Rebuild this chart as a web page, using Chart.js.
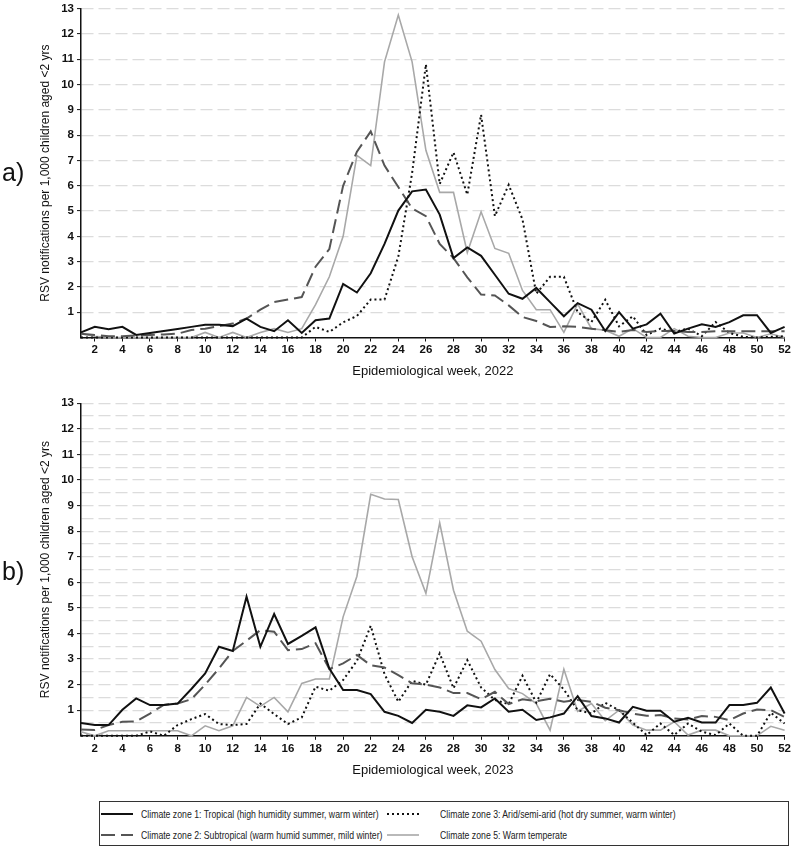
<!DOCTYPE html>
<html>
<head>
<meta charset="utf-8">
<script src="https://cdn.jsdelivr.net/npm/chart.js@4.4.1/dist/chart.umd.min.js"></script>
<style>
  body { margin: 0; background: #fff; font-family: "Liberation Sans", Arial, sans-serif; }
  #wrap { position: relative; width: 794px; height: 850px; }
  .panel { position: absolute; left: 0; width: 794px; }
  .tag { position: absolute; left: 2px; font-size: 25px; color: #111; }
  #legend { position: absolute; left: 99px; top: 801px; width: 690px; height: 45px;
            border: 1px solid #333; box-sizing: border-box; font-size: 11px; color: #222; }
  .item { position: absolute; display: flex; align-items: center; height: 14px; white-space: nowrap; }
  .item span { display: inline-block; transform: scaleX(0.79); transform-origin: left center; }
</style>
</head>
<body>
<div id="wrap">
  <div class="panel" style="top:0;height:383px"><canvas id="chartA"></canvas></div>
  <div class="panel" style="top:390px;height:392px"><canvas id="chartB"></canvas></div>
  <div class="tag" style="top:158px">a)</div>
  <div class="tag" style="top:557px">b)</div>
  <div id="legend"></div>
</div>
<script>
const weeks = [1,2,3,4,5,6,7,8,9,10,11,12,13,14,15,16,17,18,19,20,21,22,23,24,25,26,
  27,28,29,30,31,32,33,34,35,36,37,38,39,40,41,42,43,44,45,46,47,48,49,50,51,52];
const xTicks = [2,4,6,8,10,12,14,16,18,20,22,24,26,28,30,32,34,36,38,40,42,44,46,48,50,52];

const zoneNames = [
  'Climate zone 1: Tropical (high humidity summer, warm winter)',
  'Climate zone 2: Subtropical (warm humid summer, mild winter)',
  'Climate zone 3: Arid/semi-arid (hot dry summer, warm winter)',
  'Climate zone 5: Warm temperate'
];

// 2022
const tropical2022 = [0.2,0.42,0.33,0.42,0.1,0.18,0.26,0.34,0.42,0.5,0.5,0.45,0.75,0.42,0.25,0.68,0.18,0.68,0.75,2.12,
  1.78,2.54,3.7,5.02,5.78,5.85,4.86,3.14,3.56,3.23,2.48,1.73,1.53,1.96,1.4,0.84,1.36,1.1,0.26,1.0,
  0.35,0.52,0.94,0.16,0.35,0.52,0.42,0.61,0.88,0.88,0.18,0.42];
const subtropical2022 = [0.15,0.1,0.05,0.05,0.08,0.1,0.12,0.15,0.3,0.35,0.45,0.55,0.75,1.1,1.4,1.5,1.6,2.8,3.5,6.0,
  7.35,8.15,6.8,5.95,5.1,4.8,3.7,3.14,2.38,1.7,1.66,1.27,0.81,0.65,0.42,0.44,0.42,0.35,0.29,0.22,
  0.3,0.22,0.26,0.26,0.22,0.22,0.25,0.25,0.25,0.25,0.25,0.25];
const arid2022 = [0,0,0,0,0,0,0,0,0,0,0,0,0,0,0,0,0,0.42,0.22,0.6,
  0.85,1.5,1.5,3.2,6.5,10.8,6.07,7.32,5.65,8.81,4.8,6.04,4.67,1.73,2.4,2.4,1.0,0.61,1.49,0.44,
  0.84,0.1,0.35,0.22,0.35,0.05,0.61,0.18,0.03,0,0.03,0.05];
const temperate2022 = [0.15,0.05,0,0,0,0,0,0,0,0.2,0,0.2,0,0.2,0.35,0.2,0.35,1.3,2.4,4.0,
  7.2,6.8,10.9,12.75,10.9,7.4,5.74,5.74,3.36,4.97,3.52,3.33,1.86,1.1,1.1,0.2,1.33,0.35,0.29,0.05,
  0.35,0,0,0.35,0.05,0,0,0.18,0.18,0,0.15,0];

// 2023
const tropical2023 = [0.5,0.42,0.42,1.02,1.46,1.2,1.2,1.26,1.83,2.44,3.48,3.32,5.44,3.48,4.76,3.59,3.91,4.24,2.63,1.79,
  1.79,1.63,0.94,0.78,0.5,1.02,0.94,0.78,1.19,1.11,1.46,0.94,1.02,0.62,0.72,0.87,1.55,0.77,0.68,0.52,
  1.13,0.98,0.98,0.55,0.7,0.52,0.52,1.2,1.2,1.29,1.89,0.87];
const subtropical2023 = [0.25,0.23,0.42,0.55,0.56,0.87,1.21,1.26,1.43,2.0,2.63,3.32,3.72,4.13,4.07,3.35,3.39,3.62,2.61,2.83,
  3.16,2.76,2.67,2.37,2.05,2.0,1.89,1.67,1.67,1.43,1.72,1.24,1.43,1.35,1.45,1.33,1.4,1.33,1.1,1.0,
  0.87,0.78,0.81,0.68,0.64,0.77,0.74,0.61,0.87,1.03,1.0,0.74];
const arid2023 = [0,0,0,0,0,0.17,0,0.42,0.65,0.85,0.46,0.42,0.46,1.26,0.85,0.46,0.72,1.92,1.76,2.18,
  2.93,4.3,2.41,1.33,2.15,2.0,3.22,1.86,2.96,1.89,1.4,1.24,2.35,1.3,2.41,1.81,1.0,0.87,1.29,1.0,
  0.51,0.03,0.48,0.03,0.48,0.16,0.03,0.48,0,0,0.9,0.48];
const temperate2023 = [0.16,0,0.2,0.2,0.2,0.2,0.2,0.2,0,0.39,0.2,0.39,1.5,1.15,1.5,0.94,2.05,2.22,2.22,4.65,
  6.24,9.44,9.26,9.24,7.0,5.57,8.33,5.69,4.09,3.7,2.59,1.85,1.65,1.26,0.22,2.6,0.96,1.26,0.59,1.0,
  0.42,0.22,0.22,0.55,0.03,0.22,0.22,0,0,0,0.37,0.22];

const zoneStyles = [
  { borderColor: '#111', borderWidth: 2, borderDash: [] },
  { borderColor: '#555', borderWidth: 2, borderDash: [14, 6] },
  { borderColor: '#111', borderWidth: 2, borderDash: [2, 3] },
  { borderColor: '#a8a8a8', borderWidth: 1.6, borderDash: [] }
];

const tickFont = { family: 'Liberation Sans', size: 11.5, weight: 'bold', lineHeight: 1 };

function makeChart(id, series, year, halfGrid, padTop) {
  return new Chart(document.getElementById(id), {
    type: 'line',
    data: {
      labels: weeks,
      datasets: series.map((d, i) => Object.assign({
        label: zoneNames[i],
        data: d,
        pointRadius: 0,
        tension: 0,
        fill: false,
        clip: 8
      }, zoneStyles[i]))
    },
    options: {
      responsive: true,
      maintainAspectRatio: false,
      animation: false,
      layout: { padding: { top: padTop, right: 7, left: 0, bottom: 0 } },
      plugins: { legend: { display: false }, tooltip: { enabled: false } },
      scales: {
        x: {
          type: 'linear',
          min: 1,
          max: 52,
          afterBuildTicks: s => { s.ticks = xTicks.map(v => ({ value: v })); },
          afterFit: s => { s.height = padTop > 10 ? 46.2 : 45.5; },
          ticks: { font: tickFont, color: '#111', padding: 3, maxRotation: 0, autoSkip: false },
          grid: { drawOnChartArea: false, tickLength: 4, tickColor: '#111', tickWidth: 1 },
          border: { color: '#111', width: 1.5 },
          title: {
            display: true,
            text: 'Epidemiological week, ' + year,
            color: '#111',
            font: { family: 'Liberation Sans', size: 13 },
            padding: { top: 4, bottom: 4 }
          }
        },
        y: {
          min: 0,
          max: 13,
          afterFit: s => { s.width = 81; },
          ticks: {
            stepSize: halfGrid ? 0.5 : 1,
            font: tickFont,
            color: '#111',
            padding: 3,
            autoSkip: false,
            callback: v => (v > 0 && Number.isInteger(v)) ? String(v) : ''
          },
          grid: {
            color: c => c.tick && c.tick.value > 0 ? '#dcdcdc' : 'rgba(0,0,0,0)',
            lineWidth: 1.2,
            tickLength: 4,
            tickColor: c => c.tick && c.tick.value > 0 && Number.isInteger(c.tick.value) ? '#111' : 'rgba(0,0,0,0)',
            tickWidth: 1,
            tickBorderDash: []
          },
          border: { color: '#111', width: 1.5, dash: [12, 5] },
          title: {
            display: true,
            text: 'RSV notifications per 1,000 children aged <2 yrs',
            color: '#111',
            font: { family: 'Liberation Sans', size: 12 },
            padding: { top: 38, bottom: 0 }
          }
        }
      }
    }
  });
}

makeChart('chartA', [tropical2022, subtropical2022, arid2022, temperate2022], 2022, false, 6);
makeChart('chartB', [tropical2023, subtropical2023, arid2023, temperate2023], 2023, true, 13.3);

// legend box
const legend = document.getElementById('legend');
const legendPos = [[1, 5, 8], [1, 26, 8], [287, 5, 21], [287, 26, 21]];
zoneNames.forEach((name, i) => {
  const st = zoneStyles[i];
  const item = document.createElement('div');
  item.className = 'item';
  item.style.left = legendPos[i][0] + 'px';
  item.style.top = legendPos[i][1] + 'px';
  item.innerHTML = '<svg width="32" height="6" style="margin-right:' + legendPos[i][2] + 'px">' +
    '<line x1="0" y1="3" x2="32" y2="3" stroke="' + st.borderColor +
    '" stroke-width="' + st.borderWidth + '" stroke-dasharray="' + (st.borderDash.join(' ') || 'none') + '"/></svg>' +
    '<span>' + name + '</span>';
  legend.appendChild(item);
});
</script>
</body>
</html>
